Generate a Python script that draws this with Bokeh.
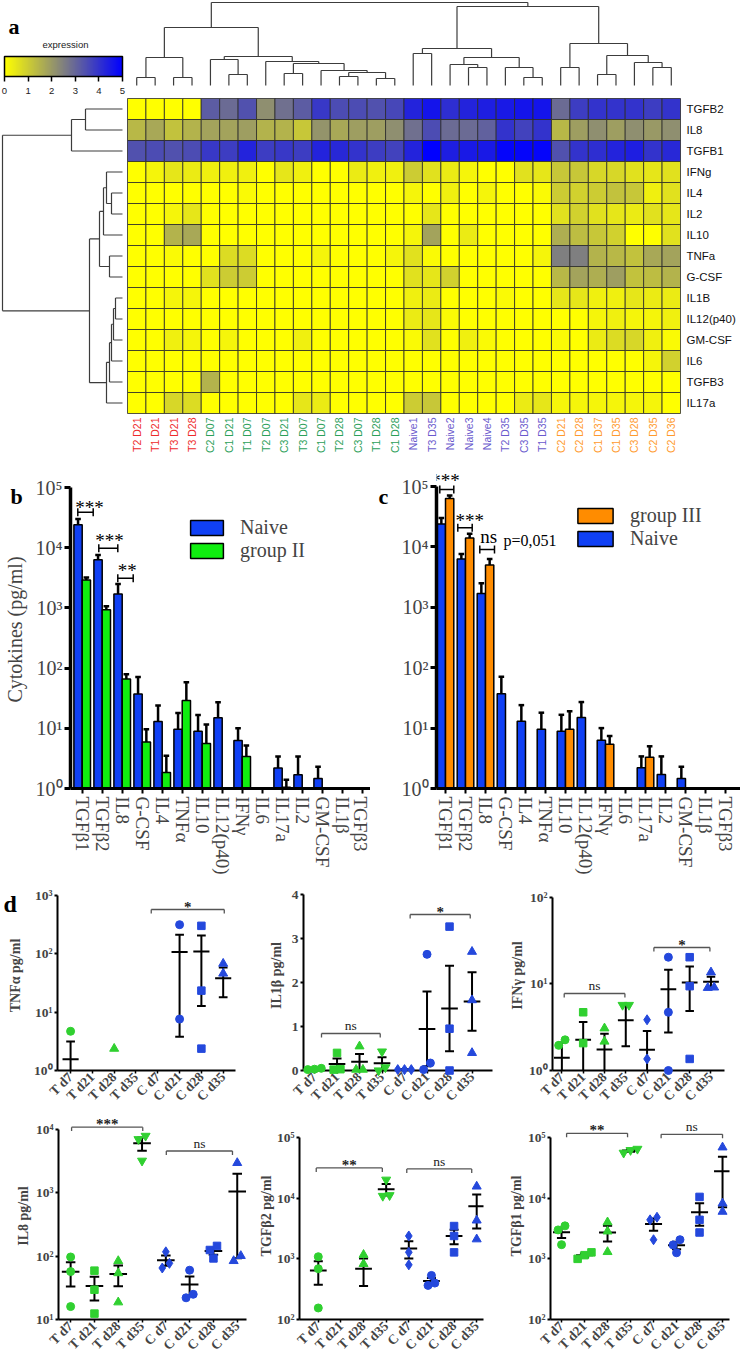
import math
from bokeh.plotting import figure
from bokeh.models import (ColumnDataSource, Range1d, FixedTicker, LinearColorMapper, ColorBar,
                          Legend, LegendItem)
from bokeh.layouts import column, row
from bokeh.embed import file_html
from bokeh.resources import INLINE
from bokeh.core.properties import value

SANS = "Liberation Sans"
SERIF = "Liberation Serif"

# ======================= DATA: panel a (heatmap) =======================
sample_labels = ["T2 D21", "T1 D21", "T3 D21", "T3 D28", "C2 D07", "C1 D21", "T1 D07", "T2 D07",
                 "C3 D21", "T3 D07", "C1 D07", "T2 D28", "C3 D07", "T1 D28", "C1 D28", "Naive1",
                 "T3 D35", "Naive2", "Naive3", "Naive4", "T2 D35", "C3 D35", "T1 D35", "C2 D21",
                 "C2 D28", "C1 D37", "C1 D35", "C3 D28", "C2 D35", "C2 D36"]
sample_group = ["I"] * 4 + ["II"] * 11 + ["N"] * 8 + ["III"] * 7
group_label_color = {"I": "#ee2b2b", "II": "#2ca05a", "N": "#6a5acd", "III": "#ff9a2e"}

cytokine_rows = ["TGFB2", "IL8", "TGFB1", "IFNg", "IL4", "IL2", "IL10", "TNFa", "G-CSF",
                 "IL1B", "IL12(p40)", "GM-CSF", "IL6", "TGFB3", "IL17a"]

heat_TGFB2 = [0, 0, 0, 0, 3.2, 2.9, 3.4, 2.2, 2.8, 3.2, 3.9, 3.5, 3.5, 3.4, 3.6,
              4.3, 4.6, 4.1, 4.3, 4.4, 4.5, 4.6, 4.6, 2.9, 3.8, 4.0, 4.0, 4.0, 3.8, 4.0]
heat_IL8 = [1.4, 1.7, 1.2, 1.5, 1.8, 1.8, 1.9, 1.5, 1.5, 1.1, 2.1, 1.7, 1.9, 1.9, 2.2,
            2.8, 3.5, 2.9, 2.9, 3.1, 4.0, 3.7, 4.0, 1.4, 1.9, 2.2, 1.9, 2.2, 2.0, 2.2]
heat_TGFB1 = [3.4, 3.5, 3.4, 3.5, 3.9, 3.8, 4.3, 3.8, 3.9, 3.8, 4.3, 4.2, 4.0, 3.8, 3.7,
              4.3, 5.0, 4.4, 4.5, 4.5, 4.9, 4.9, 4.9, 3.4, 4.0, 4.1, 4.3, 4.4, 4.0, 4.2]
heat_IFNg = [0, 0.2, 0.5, 0.4, 0.3, 0.3, 0.3, 0, 0.5, 0.3, 0, 0, 0.4, 0.3, 0.3,
             1.0, 0.6, 0.4, 0.2, 0, 0, 0.6, 0.5, 1.1, 1.1, 0.8, 0.8, 0.6, 0.5, 0.6]
heat_IL4 = [0, 0, 0, 0, 0, 0, 0.1, 0, 0, 0, 0, 0, 0, 0, 0,
            0.2, 0, 0.3, 0, 0.2, 0, 0, 0.1, 1.0, 0.9, 1.0, 1.2, 1.1, 0.3, 0.6]
heat_IL2 = [0, 0, 0.2, 0.5, 0, 0, 0, 0, 0, 0, 0, 0, 0, 0, 0,
            0, 0.5, 0, 0, 0, 0, 0, 0, 0.6, 0.9, 0.6, 0.5, 0.4, 0.6, 0.5]
heat_IL10 = [0, 0, 1.5, 1.7, 0, 0, 0, 0, 0, 0, 0, 0, 0, 0, 0,
             0.2, 1.8, 0, 0.4, 0, 0, 0, 0, 1.6, 1.3, 1.1, 0.9, 0, 0, 0.6]
heat_TNFa = [0, 0, 0.1, 0, 0, 0.7, 0.7, 0, 0, 0, 0.2, 0, 0, 0, 0.2,
             0.6, 0.1, 0, 0, 0, 0, 0, 0.2, 2.5, 2.5, 1.5, 1.4, 1.2, 1.7, 1.8]
heat_GCSF = [0, 0, 0, 0, 0.6, 1.0, 1.0, 0, 0, 0, 0, 0, 0, 0, 0,
             0.6, 0.5, 0.9, 0, 0, 0, 0, 0, 1.4, 1.8, 1.6, 1.9, 1.2, 1.3, 1.5]
heat_IL1B = [0, 0, 0.2, 0.2, 0, 0, 0, 0, 0, 0, 0, 0, 0, 0, 0,
             0.3, 0.4, 0, 0, 0, 0.1, 0, 0, 0.5, 0.5, 0.3, 0.3, 0.5, 0.4, 0.4]
heat_IL12 = [0, 0, 0, 0, 0, 0, 0, 0, 0, 0, 0, 0, 0, 0, 0,
             0.4, 0.5, 0.1, 0, 0, 0, 0, 0, 0, 0, 0.2, 0.3, 0.2, 0.2, 0.3]
heat_GMCSF = [0, 0, 0.3, 0.2, 0, 0.2, 0, 0, 0, 0.3, 0, 0, 0, 0, 0,
              0.1, 0.6, 0, 0.3, 0.1, 0, 0, 0, 0.1, 0, 0.4, 0.7, 0.8, 0.3, 0.1]
heat_IL6 = [0, 0, 0, 0, 0, 0, 0, 0, 0, 0, 0, 0, 0, 0, 0,
            0, 0, 0, 0, 0, 0, 0, 0, 0, 0, 0, 0, 0, 0.2, 0.9]
heat_TGFB3 = [0, 0, 0, 0, 1.5, 0, 0, 0, 0, 0, 0, 0, 0, 0, 0,
              0, 0, 0, 0, 0, 0, 0, 0, 0, 0, 0, 0, 0, 0, 0]
heat_IL17a = [0, 0, 0.8, 0.7, 0, 0, 0, 0, 0, 0.5, 0.4, 0, 0, 0, 0,
              1.0, 1.1, 0, 0, 0, 0, 0.4, 0.5, 0.2, 0.2, 0.2, 0.2, 0.2, 0.2, 0]
heat_values = [heat_TGFB2, heat_IL8, heat_TGFB1, heat_IFNg, heat_IL4, heat_IL2, heat_IL10,
               heat_TNFa, heat_GCSF, heat_IL1B, heat_IL12, heat_GMCSF, heat_IL6, heat_TGFB3, heat_IL17a]

# dendrogram merges (left id, right id, height); ids >= n refer to earlier merges
col_merges = [(0, 1, 8), (2, 3, 8), (30, 31, 28), (5, 6, 11), (4, 33, 26), (8, 9, 12), (11, 12, 9),
              (13, 14, 7), (36, 37, 13), (10, 38, 15), (35, 39, 22), (7, 40, 24), (34, 41, 29),
              (32, 42, 58), (15, 16, 32), (18, 19, 18), (17, 45, 21), (21, 22, 8), (20, 47, 18),
              (46, 48, 28), (44, 49, 37), (23, 24, 18), (25, 26, 11), (28, 29, 18), (27, 53, 23),
              (52, 54, 30), (51, 55, 42), (50, 56, 79), (43, 57, 83)]
row_merges = [(0, 1, 37), (15, 2, 51), (4, 5, 11), (3, 17, 16), (18, 6, 19), (7, 8, 13),
              (19, 20, 23), (9, 10, 7), (22, 11, 9), (23, 12, 11), (24, 13, 13), (25, 14, 16),
              (21, 26, 33), (16, 27, 120)]

# ======================= DATA: panels b, c =======================
bar_cytokines = ["TGFβ1", "TGFβ2", "IL8", "G-CSF", "IL4", "TNFα", "IL10", "IL12(p40)", "IFNγ",
                 "IL6", "IL17a", "IL2", "GM-CSF", "IL1β", "TGFβ3"]
naive_mean = [24000, 6300, 1700, 37, 13, 9.6, 8.9, 15, 6.3, 0, 2.2, 1.7, 1.47, 0, 0]
naive_sem = [6000, 1300, 800, 34, 11, 8.4, 7.7, 12, 3.7, 0, 1.2, 1.7, 0.83, 0, 0]
group2_mean = [2900, 930, 66, 5.9, 1.85, 29, 5.6, 0, 3.4, 0, 1.05, 0, 0, 0, 0]
group2_sem = [300, 140, 13, 3.7, 1.65, 29, 6.0, 0, 1.8, 0, 0.35, 0, 0, 0, 0]
group3_mean = [63000, 14000, 5000, 0, 0, 0, 9.6, 0, 5.4, 0, 3.3, 0, 0, 0, 0]
group3_sem = [8000, 2500, 1300, 0, 0, 0, 9.4, 0, 2.0, 0, 1.7, 0, 0, 0, 0]

# ======================= DATA: panel d =======================
d_groups = ["T d7", "T d21", "T d28", "T d35", "C d7", "C d21", "C d28", "C d35"]
d_markers = ["circle", "square", "triangle", "inverted_triangle", "diamond", "circle", "square", "triangle"]
d_is_control = [False, False, False, False, True, True, True, True]
tnfa_pts = [[4.7, 0, 0], [0, 0, 0], [2.37, 0, 0], [0, 0, 0], [0, 0, 0],
            [316, 7.6, 0], [302, 23.4, 2.37], [68, 46, 0]]
il1b_pts = [[0.05, 0.03, 0.02], [0.4, 0.03, 0.02], [0.55, 0.02, 0.02], [0.43, 0.07, 0.0],
            [0.02, 0.02, 0.02], [2.64, 0.17, 0.02], [3.27, 0.95, 0.0], [2.7, 1.6, 0.4]]
ifng_pts = [[1.95, 2.26, 0], [4.7, 2.07, 0], [3.07, 2.16, 0], [5.7, 5.7, 0], [3.85, 1.36, 0],
            [20.3, 4.7, 1.0], [20.3, 9.4, 1.36], [13.6, 9.1, 9.0]]
il8_pts = [[97, 57, 16], [59, 29.5, 12.4], [84, 54, 18.7], [7900, 7000, 3200], [117, 77, 65],
           [60, 25, 22], [145, 125, 92], [2960, 101, 84]]
tgfb2_pts = [[1090, 690, 155], [0, 0, 0], [1175, 830, 56], [20400, 11300, 11000],
             [2400, 1290, 800], [535, 400, 366], [3500, 2400, 1286], [15800, 4340, 2120]]
tgfb1_pts = [[3500, 3000, 1714], [1280, 1150, 1000], [4020, 2840, 1300], [65000, 62000, 56000],
             [4850, 4400, 2067], [2070, 1700, 1260], [10500, 4400, 2720], [69000, 8220, 6000]]

SUP = {0: "\u2070", 1: "\u00b9", 2: "\u00b2", 3: "\u00b3", 4: "\u2074", 5: "\u2075"}

BLUE_BAR = "#1040f5"
GREEN_BAR = "#10ee10"
ORANGE_BAR = "#ff8c00"
GREEN_DOT = "#30d030"
BLUE_DOT = "#2448dc"


def heat_palette(n=256):
    pal = []
    for i in range(n):
        t = i / (n - 1)
        if t <= 0.5:
            u = t / 0.5
            r = g = 255 + (128 - 255) * u
            b = 128 * u
        else:
            u = (t - 0.5) / 0.5
            r = g = 128 * (1 - u)
            b = 128 + 127 * u
        pal.append("#%02x%02x%02x" % (int(round(r)), int(round(g)), int(round(b))))
    return pal


def dendro_segments(merges, n):
    pos = {i: i + 0.5 for i in range(n)}
    hgt = {i: 0.0 for i in range(n)}
    segs = []
    for k, (a, b, h) in enumerate(merges):
        segs.append((pos[a], hgt[a], pos[a], h))
        segs.append((pos[b], hgt[b], pos[b], h))
        segs.append((pos[a], h, pos[b], h))
        pos[n + k] = (pos[a] + pos[b]) / 2.0
        hgt[n + k] = h
    return segs


def letter_text(p, x, y, txt, size):
    p.text(x=[x], y=[y], text=[txt], text_font=value(SERIF), text_font_style="bold",
           text_font_size=size, text_baseline="alphabetic", text_align="left",
           text_color="black", level="overlay")


# ======================= PANEL A =======================
W_A, H_A = 740, 470
PX_COL = 553.0 / 30
PX_ROW = 21.0
HM_LEFT, HM_TOP = 127.0, 98.0


def ax_x(px):
    return (px - HM_LEFT) / PX_COL


def ax_y(px):
    return (px - HM_TOP) / PX_ROW


pa = figure(width=W_A, height=H_A, x_range=Range1d(ax_x(0), ax_x(W_A)),
            y_range=Range1d(ax_y(H_A), ax_y(0)), x_axis_location=None, y_axis_location=None,
            output_backend="svg", toolbar_location=None, min_border=0)
pa.outline_line_color = None
for g in pa.grid:
    g.visible = False

mapper = LinearColorMapper(palette=heat_palette(), low=0, high=5)
hx, hy, hv = [], [], []
for r, vals in enumerate(heat_values):
    for c, v in enumerate(vals):
        hx.append(c + 0.5)
        hy.append(r + 0.5)
        hv.append(v)
pa.rect(x="x", y="y", width=1, height=1, source=ColumnDataSource(dict(x=hx, y=hy, v=hv)),
        fill_color={"field": "v", "transform": mapper}, line_color="#2a2a2a", line_width=0.8)

LEAF_Y = ax_y(85)
cs = dendro_segments(col_merges, len(sample_labels))
pa.segment(x0=[s[0] for s in cs], y0=[LEAF_Y - s[1] / PX_ROW for s in cs],
           x1=[s[2] for s in cs], y1=[LEAF_Y - s[3] / PX_ROW for s in cs],
           line_color="#3c3c3c", line_width=1.2)
LEAF_X = ax_x(122)
rs = dendro_segments(row_merges, len(cytokine_rows))
pa.segment(y0=[s[0] for s in rs], x0=[LEAF_X - s[1] / PX_COL for s in rs],
           y1=[s[2] for s in rs], x1=[LEAF_X - s[3] / PX_COL for s in rs],
           line_color="#3c3c3c", line_width=1.2)

pa.text(x=[i + 0.5 for i in range(len(sample_labels))], y=[ax_y(417)] * len(sample_labels),
        text=sample_labels, angle=math.pi / 2, text_align="right", text_baseline="middle",
        text_color=[group_label_color[g] for g in sample_group], text_font=value(SANS),
        text_font_size="10.5px")
pa.text(x=[ax_x(686)] * len(cytokine_rows), y=[r + 0.5 for r in range(len(cytokine_rows))],
        text=cytokine_rows, text_align="left", text_baseline="middle", text_color="#111111",
        text_font=value(SANS), text_font_size="11.5px")
letter_text(pa, ax_x(8), ax_y(26), "a", "22px")
pa.text(x=[ax_x(65)], y=[ax_y(44)], text=["expression"], text_font=value(SANS),
        text_font_size="9.5px", text_align="center", text_baseline="middle", text_color="#222222")

cbar = ColorBar(color_mapper=mapper, orientation="horizontal", width=118, height=20,
                location=(4, 374), ticker=FixedTicker(ticks=[0, 1, 2, 3, 4, 5]),
                major_label_text_font=SANS, major_label_text_font_size="9.5px",
                major_label_text_color="#222222", major_tick_line_color="black",
                major_tick_in=0, major_tick_out=5, major_tick_line_width=1.5,
                minor_tick_line_color=None, bar_line_color="black", bar_line_width=1.5,
                label_standoff=6, padding=0, margin=0, background_fill_alpha=0,
                border_line_color=None)
pa.add_layout(cbar)


# ======================= PANELS B, C =======================
def bar_panel(series, frame_left, ymax_px, x_start, ylabel, letter, letter_px, legend_px,
              legend_gw, legend_pitch, brackets, notes):
    W, H, FB = 370, 410, 318
    ppd = (FB - ymax_px) / 5.0
    top_log = 5 + ymax_px / ppd
    x_end = x_start + (W - frame_left) / 20.0
    p = figure(width=W, height=H, x_range=Range1d(x_start, x_end), y_range=Range1d(1, 10 ** top_log),
               y_axis_type="log", output_backend="svg", toolbar_location=None,
               min_border_left=frame_left, min_border_right=0, min_border_top=0,
               min_border_bottom=H - FB)
    p.outline_line_color = None
    p.grid.visible = False

    def to_x(px):
        return x_start + (px - frame_left) / 20.0

    def to_y(px):
        return 10 ** (top_log - px / ppd)

    offs = [-0.2075, 0.2075]
    items = []
    for gi, (name, means, sems, color) in enumerate(series):
        xs = [k + offs[gi] for k, m in enumerate(means) if m > 1]
        tops = [m for m in means if m > 1]
        r = p.vbar(x=xs, width=0.415, bottom=1, top=tops, fill_color=color,
                   line_color="black", line_width=1.5)
        ex = [k + offs[gi] for k, m in enumerate(means) if m > 0]
        em = [m for m in means if m > 0]
        eu = [m + s for m, s in zip(means, sems) if m > 0]
        em = [max(m, 1.0) for m in em]
        p.segment(x0=ex, y0=em, x1=ex, y1=eu, line_color="black", line_width=2.5)
        p.segment(x0=[x - 0.14 for x in ex], y0=eu, x1=[x + 0.14 for x in ex], y1=eu,
                  line_color="black", line_width=2.5)
        items.append((name, r))

    order = [1, 0] if letter == "c" else [0, 1]
    legend = Legend(items=[LegendItem(label=items[i][0], renderers=[items[i][1]]) for i in order],
                    location=(legend_px[0] - frame_left, FB - legend_px[1] - 2 * legend_pitch),
                    glyph_width=legend_gw, glyph_height=19, label_height=legend_pitch,
                    label_text_font=SERIF, label_text_font_size="20px", label_standoff=13,
                    spacing=0, padding=0, margin=0, border_line_color=None,
                    background_fill_alpha=0)
    p.add_layout(legend)

    for (x0, x1, ypx) in brackets:
        yv = to_y(ypx)
        p.segment(x0=[x0], y0=[yv], x1=[x1], y1=[yv], line_color="black", line_width=1.5)
        p.segment(x0=[x0, x1], y0=[to_y(ypx - 4)] * 2, x1=[x0, x1], y1=[to_y(ypx + 4)] * 2,
                  line_color="black", line_width=1.5)
    for (tx, typx, txt, size, align) in notes:
        p.text(x=[tx], y=[to_y(typx)], text=[txt], text_font=value(SERIF), text_font_size=size,
               text_align=align, text_baseline="middle", text_color="black")

    letter_text(p, to_x(letter_px[0]), to_y(letter_px[1]), letter, "22px")

    p.yaxis.ticker = FixedTicker(ticks=[1, 10, 100, 1000, 10000, 100000])
    p.yaxis.major_label_overrides = {10 ** k: "10" + SUP[k] for k in range(6)}
    p.yaxis.bounds = (1, 100000)
    p.yaxis.axis_line_width = 3.5
    p.yaxis.major_tick_line_width = 3
    p.yaxis.major_tick_out = 6
    p.yaxis.major_tick_in = 0
    p.yaxis.minor_tick_line_color = None
    p.yaxis.major_label_text_font = SERIF
    p.yaxis.major_label_text_font_size = "20px"
    p.yaxis.major_label_standoff = 2
    if ylabel:
        p.yaxis.axis_label = ylabel
        p.yaxis.axis_label_text_font = SERIF
        p.yaxis.axis_label_text_font_style = "normal"
        p.yaxis.axis_label_text_font_size = "20px"
        p.yaxis.axis_label_standoff = 7
    p.xaxis.ticker = FixedTicker(ticks=list(range(len(bar_cytokines))))
    p.xaxis.major_label_overrides = {i: n for i, n in enumerate(bar_cytokines)}
    p.xaxis.major_label_orientation = "vertical"
    p.xaxis.major_label_text_font = SERIF
    p.xaxis.major_label_text_font_size = "19px"
    p.xaxis.major_label_standoff = 3
    p.xaxis.axis_line_width = 3
    p.xaxis.major_tick_out = 5
    p.xaxis.major_tick_in = 0
    p.xaxis.major_tick_line_width = 2
    p.xaxis.minor_tick_line_color = None
    return p


pb = bar_panel([("Naive", naive_mean, naive_sem, BLUE_BAR), ("group II", group2_mean, group2_sem, GREEN_BAR)],
               frame_left=70, ymax_px=17, x_start=-0.585, ylabel="Cytokines (pg/ml)",
               letter="b", letter_px=(10, 26), legend_px=(186, 46), legend_gw=41, legend_pitch=23,
               brackets=[(-0.22, 0.55, 41.7), (0.83, 1.78, 77.7), (1.78, 2.55, 107.7)],
               notes=[(0.365, 37.3, "***", "19px", "center"), (1.365, 70.3, "***", "19px", "center"),
                      (2.25, 100.3, "**", "19px", "center")])
pc = bar_panel([("Naive", naive_mean, naive_sem, BLUE_BAR), ("group III", group3_mean, group3_sem, ORANGE_BAR)],
               frame_left=66, ymax_px=16, x_start=-0.45, ylabel=None,
               letter="c", letter_px=(8, 26), legend_px=(203, 38), legend_gw=44, legend_pitch=21,
               brackets=[(-0.285, 0.415, 19), (0.615, 1.335, 57.3), (1.715, 2.45, 79)],
               notes=[(0.0, 10.3, "***", "19px", "center"), (1.215, 50.3, "***", "19px", "center"),
                      (2.165, 65.8, "ns", "19px", "center"), (2.9, 70, "p=0,051", "16px", "left")])


# ======================= PANEL D =======================
def mean_sem(vals):
    n = len(vals)
    m = sum(vals) / n
    sd = math.sqrt(sum((v - m) ** 2 for v in vals) / (n - 1))
    return m, sd / math.sqrt(n)


def dot_panel(pts, log, ybounds, W, H, fl, fr, ytop_px, ybot_px, x_start, spacing, ylabel,
              ylabel_standoff, sigs, letter=None):
    x_end = x_start + (fr - fl) / spacing
    if log:
        l0, l1 = math.log10(ybounds[0]), math.log10(ybounds[1])
        ppu = (ybot_px - ytop_px) / (l1 - l0)
        top = 10 ** (l1 + ytop_px / ppu)
        p = figure(width=W, height=H, x_range=Range1d(x_start, x_end), y_range=Range1d(ybounds[0], top),
                   y_axis_type="log", output_backend="svg", toolbar_location=None,
                   min_border_left=fl, min_border_right=W - fr, min_border_top=0,
                   min_border_bottom=H - ybot_px)

        def to_y(px):
            return 10 ** (math.log10(top) - px / ppu)

        def to_px(v):
            return math.log10(v) * ppu
    else:
        ppu = (ybot_px - ytop_px) / (ybounds[1] - ybounds[0])
        top = ybounds[1] + ytop_px / ppu
        p = figure(width=W, height=H, x_range=Range1d(x_start, x_end), y_range=Range1d(ybounds[0], top),
                   output_backend="svg", toolbar_location=None,
                   min_border_left=fl, min_border_right=W - fr, min_border_top=0,
                   min_border_bottom=H - ybot_px)

        def to_y(px):
            return top - px / ppu

        def to_px(v):
            return v * ppu
    p.outline_line_color = None
    p.grid.visible = False

    for gi, vals in enumerate(pts):
        color = BLUE_DOT if d_is_control[gi] else GREEN_DOT
        shown = [(i, v) for i, v in enumerate(vals) if v >= ybounds[0] * (0.98 if log else 1) and (v > 0 or not log)]
        srt = sorted(shown, key=lambda t: to_px(t[1]))
        clusters = []
        for i, v in srt:
            if clusters and to_px(v) - to_px(clusters[-1][-1][1]) < 7:
                clusters[-1].append((i, v))
            else:
                clusters.append([(i, v)])
        xs, ys = [], []
        for cl in clusters:
            k = len(cl)
            for j, (i, v) in enumerate(cl):
                xs.append(gi + (j - (k - 1) / 2.0) * 0.3)
                ys.append(v)
        mk = d_markers[gi]
        size = {"circle": 8, "square": 7.5, "triangle": 9, "inverted_triangle": 9, "diamond": 10}[mk]
        if xs:
            p.scatter(x=xs, y=ys, marker=mk, size=size, fill_color=color, line_color=color,
                      level="overlay")
        m, s = mean_sem(vals)
        if m <= ybounds[0] and log:
            continue
        lo = m - s
        hi = m + s
        if log and lo <= 0:
            lo = ybounds[0] * 0.1
        p.segment(x0=[gi - 0.37], y0=[m], x1=[gi + 0.37], y1=[m], line_color="black", line_width=2)
        p.segment(x0=[gi], y0=[lo], x1=[gi], y1=[hi], line_color="black", line_width=2)
        p.segment(x0=[gi - 0.2, gi - 0.2], y0=[lo, hi], x1=[gi + 0.2, gi + 0.2], y1=[lo, hi],
                  line_color="black", line_width=2)

    for (x0, x1, ypx, txt) in sigs:
        yv = to_y(ypx)
        p.segment(x0=[x0], y0=[yv], x1=[x1], y1=[yv], line_color="#555555", line_width=1.3)
        p.segment(x0=[x0, x1], y0=[yv, yv], x1=[x0, x1], y1=[to_y(ypx + 4)] * 2,
                  line_color="#555555", line_width=1.3)
        if txt == "ns":
            p.text(x=[(x0 + x1) / 2], y=[to_y(ypx - 8)], text=[txt], text_font=value(SERIF),
                   text_font_size="13.5px", text_align="center", text_baseline="middle", text_color="#222222")
        else:
            p.text(x=[(x0 + x1) / 2], y=[to_y(ypx - 3)], text=[txt], text_font=value(SERIF),
                   text_font_size="15px", text_font_style="bold", text_align="center",
                   text_baseline="middle", text_color="#222222")

    if letter:
        letter_text(p, x_start - (fl - 3) / spacing, to_y(23), letter, "24px")

    if log:
        k0, k1 = int(round(math.log10(ybounds[0]))), int(round(math.log10(ybounds[1])))
        p.yaxis.ticker = FixedTicker(ticks=[10 ** k for k in range(k0, k1 + 1)])
        p.yaxis.major_label_overrides = {10 ** k: "10" + SUP[k] for k in range(k0, k1 + 1)}
    else:
        p.yaxis.ticker = FixedTicker(ticks=list(range(int(ybounds[0]), int(ybounds[1]) + 1)))
    p.yaxis.bounds = ybounds
    p.yaxis.axis_line_width = 2
    p.yaxis.major_tick_line_width = 2
    p.yaxis.major_tick_out = 3
    p.yaxis.major_tick_in = 0
    p.yaxis.minor_tick_line_color = None
    p.yaxis.major_label_text_font = SERIF
    p.yaxis.major_label_text_font_style = "bold"
    p.yaxis.major_label_text_font_size = "13.5px"
    p.yaxis.major_label_standoff = 2
    p.yaxis.axis_label = ylabel
    p.yaxis.axis_label_text_font = SERIF
    p.yaxis.axis_label_text_font_style = "bold"
    p.yaxis.axis_label_text_font_size = "14px"
    p.yaxis.axis_label_standoff = ylabel_standoff
    p.xaxis.ticker = FixedTicker(ticks=list(range(len(d_groups))))
    p.xaxis.major_label_overrides = {i: n for i, n in enumerate(d_groups)}
    p.xaxis.major_label_orientation = math.pi / 4
    p.xaxis.major_label_text_font = SERIF
    p.xaxis.major_label_text_font_style = "bold"
    p.xaxis.major_label_text_font_size = "13.5px"
    p.xaxis.major_label_standoff = 1
    p.xaxis.axis_line_width = 2
    p.xaxis.major_tick_out = 3
    p.xaxis.major_tick_in = 0
    p.xaxis.major_tick_line_width = 1.5
    p.xaxis.minor_tick_line_color = None
    return p


d1 = dot_panel(tnfa_pts, True, (1, 1000), 255, 232, 57, 235, 15, 190, -0.6, 21.8, "TNFα pg/ml", 8,
               [(3.7, 7.05, 29, "*")], letter="d")
d2 = dot_panel(il1b_pts, False, (0, 4), 245, 232, 48, 237, 14, 190, -0.49, 22.5, "IL1β pg/ml", 5,
               [(0.31, 2.92, 153, "ns"), (4.25, 6.92, 34, "*")])
d3 = dot_panel(ifng_pts, True, (1, 100), 240, 232, 52, 224, 16.7, 190, -0.44, 21.3, "IFNγ pg/ml", 1,
               [(0.11, 2.96, 113, "ns"), (4.32, 6.95, 67, "*")])
d4 = dot_panel(il8_pts, True, (10, 10000), 255, 249, 58, 246, 17, 208, -0.51, 23.8, "IL8 pg/ml", 2,
               [(0.04, 3.03, 14.7, "***"), (4.02, 6.8, 38.7, "ns")])
d5 = dot_panel(tgfb2_pts, True, (100, 100000), 245, 249, 41, 228, 25.7, 209, -0.83, 23, "TGFβ2 pg/ml", 0,
               [(-0.09, 2.83, 56, "**"), (3.91, 6.78, 57, "ns")])
d6 = dot_panel(tgfb1_pts, True, (100, 100000), 240, 249, 50, 229, 25.3, 209, -0.48, 23, "TGFβ1 pg/ml", 1,
               [(0.22, 2.87, 21, "**"), (4.33, 7.0, 22, "ns")])

layout = column(pa, row(pb, pc), row(d1, d2, d3), row(d4, d5, d6))
open("out.html", "w").write(file_html(layout, INLINE))
